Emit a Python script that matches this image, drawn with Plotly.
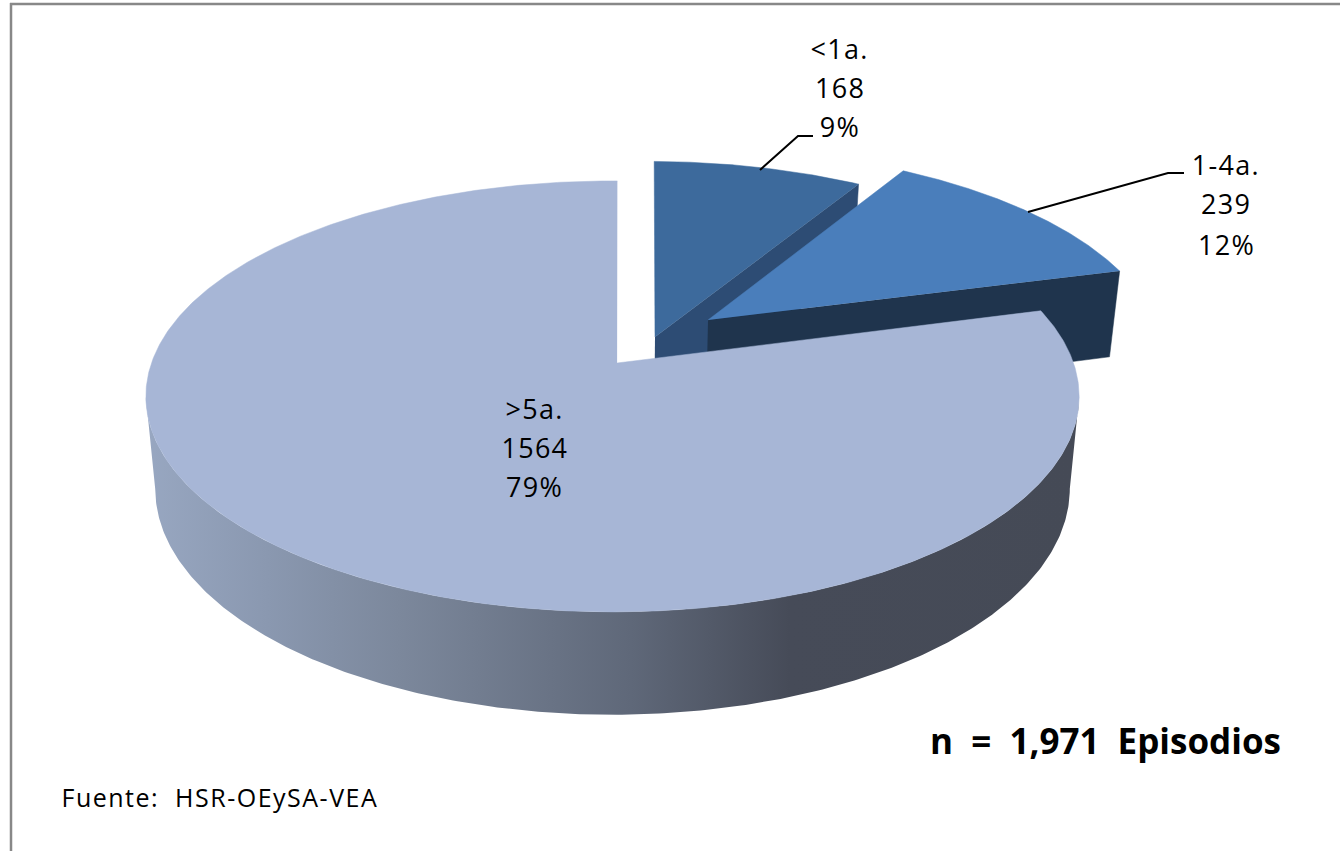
import numpy as np
import plotly.graph_objects as go

# ---- data ----
categories = ["<1a.", "1-4a.", ">5a."]
episodes = [168, 239, 1564]
percent_labels = ["9%", "12%", "79%"]
total_label = "n  =  1,971  Episodios"
source_label = "Fuente:  HSR-OEySA-VEA"

# ---- style / projection ----
W, H = 1340, 851
X0, Y0 = 612.5, 363.0
AX, BY, K = 461.0, 210.3, 0.155
ROT = 0.7
SX, SY, Y0B = 0.98, 1.05, 453.4
EXPLODE = [(0.094, 0.126), (0.214, 0.211), (0.0, 0.0)]
APEX_NUDGE = [(0, 0), (0, 0), (0.01, 0)]
TOP = ["#3D6A9C", "#4A7EBB", "#A7B6D6"]
CUT = ["#2D4C74", "#1F344D", "#454B5A"]
WALL_SCALE = [[0.0, "#98A7C1"], [0.13, "#8A98B0"], [0.27, "#7C889C"], [0.52, "#5F6879"],
              [0.69, "#464B58"], [1.0, "#454A56"]]


def project(u, v, lower=False):
    u = np.asarray(u, float)
    v = np.asarray(v, float)
    w = 1 + K * v
    if lower:
        return X0 + SX * AX * u / w, Y0B - SY * BY * v / w
    return X0 + AX * u / w, Y0 - BY * v / w


total = sum(episodes)
sweeps = [360.0 * e / total for e in episodes]
starts = [ROT + sum(sweeps[:i]) for i in range(3)]


def arc(i, n=240):
    th = np.radians(np.linspace(starts[i], starts[i] + sweeps[i], n))
    du, dv = EXPLODE[i]
    return np.sin(th) + du, np.cos(th) + dv


def poly(x, y, color):
    return go.Scatter(x=x, y=y, mode="lines", fill="toself", fillcolor=color,
                      line=dict(width=0.5, color=color), hoverinfo="skip", showlegend=False)


fig = go.Figure()

# back slices: cut face then top surface
for i in (0, 1):
    u, v = arc(i)
    du, dv = EXPLODE[i]
    xt, yt = project([du, u[-1]], [dv, v[-1]])
    xb, yb = project([u[-1], du], [v[-1], dv], lower=True)
    fig.add_trace(poly(list(xt) + list(xb), list(yt) + list(yb), CUT[i]))
    xa, ya = project(du, dv)
    xr, yr = project(u, v)
    fig.add_trace(poly([float(xa)] + list(xr), [float(ya)] + list(yr), TOP[i]))

# main slice: outer wall with horizontal gradient, then the top
th = np.radians(np.linspace(99, 261, 325))
ws, wc = np.sin(th), np.cos(th)
xt, yt = project(ws, wc)
xb, yb = project(ws[::-1], wc[::-1], lower=True)
fig.add_trace(go.Scatter(
    x=list(xt) + list(xb), y=list(yt) + list(yb), mode="lines", fill="toself",
    line=dict(width=0), hoverinfo="skip", showlegend=False,
    fillgradient=dict(type="horizontal", colorscale=WALL_SCALE, start=146, stop=1079),
))
u, v = arc(2, 600)
xr, yr = project(u, v)
xa, ya = project(APEX_NUDGE[2][0], APEX_NUDGE[2][1])
fig.add_trace(poly([float(xa)] + list(xr), [float(ya)] + list(yr), TOP[2]))

# leader lines
fig.add_trace(go.Scatter(x=[760, 798, 813], y=[170, 136, 136], mode="lines",
                         line=dict(color="black", width=2), hoverinfo="skip", showlegend=False))
fig.add_trace(go.Scatter(x=[1028, 1168, 1184], y=[212, 173, 173], mode="lines",
                         line=dict(color="black", width=2), hoverinfo="skip", showlegend=False))

FONT = "Open Sans"
label_pos = [(839.5, [48.5, 87, 126]), (1226, [164, 203, 244]), (534.5, [408.5, 447.5, 486.5])]
for (cx, ys), c, e, p in zip(label_pos, categories, episodes, percent_labels):
    for y, t in zip(ys, [c, str(e), p]):
        fig.add_annotation(x=cx, y=y, text=t, showarrow=False, xanchor="center", yanchor="middle",
                           font=dict(family=FONT, size=27, color="black"))
fig.add_annotation(x=1283, y=740, text=f"<b>{total_label}</b>", showarrow=False, xanchor="right",
                   yanchor="middle", font=dict(family=FONT, size=35, color="black"))
fig.add_annotation(x=76, y=797, text=source_label, showarrow=False, xanchor="left",
                   yanchor="middle", font=dict(family=FONT, size=25, color="black"))

# outer frame
for sh in [dict(x0=10, x1=1340, y0=4, y1=4), dict(x0=11, x1=11, y0=3, y1=851)]:
    fig.add_shape(type="line", line=dict(color="#888888", width=2.5), layer="above", **sh)

fig.update_xaxes(visible=False, range=[0, W], fixedrange=True)
fig.update_yaxes(visible=False, range=[H, 0], fixedrange=True)
fig.update_layout(width=W, height=H, margin=dict(l=0, r=0, t=0, b=0),
                  paper_bgcolor="white", plot_bgcolor="white", showlegend=False)

# page chrome: no body margin, and the reference's loose letter spacing
POST = """
document.body.style.margin = '0';
document.documentElement.style.overflow = 'hidden';
document.querySelectorAll('.annotation-text').forEach(function (t) {
  var s = parseFloat(t.style.fontSize);
  if (s === 27) t.style.letterSpacing = '1.3px';
  if (s === 25) t.style.letterSpacing = '1.5px';
});
"""
fig.write_html("out.html", config={"displayModeBar": False}, post_script=POST)
